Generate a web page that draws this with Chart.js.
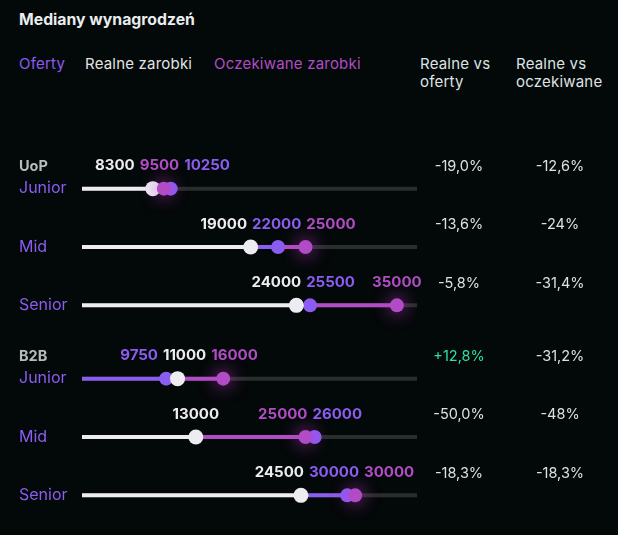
<!DOCTYPE html>
<html>
<head>
<meta charset="utf-8">
<script src="https://cdn.jsdelivr.net/npm/chart.js@4.4.1/dist/chart.umd.min.js"></script>
<style>
  body { margin: 0; background: #030808; width: 618px; height: 535px; overflow: hidden; font-family: Inter, sans-serif; }
  .txt { position: absolute; white-space: nowrap; font-size: 15px; line-height: 20px; letter-spacing: 0.2px; }
  .title { left: 19px; top: 10px; font-weight: 700; color: #e9eded; font-size: 15.8px; letter-spacing: 0; }
  .cols { line-height: 18px; color: #dfe3e3; top: 55px; }
  canvas { position: absolute; left: 0; }
</style>
</head>
<body>
<div class="txt title">Mediany wynagrodzeń</div>
<div class="txt" style="left:19px;top:54px;color:#8b5cf0">Oferty</div>
<div class="txt" style="left:85px;top:54px;color:#e2e4e4">Realne zarobki</div>
<div class="txt" style="left:214px;top:54px;color:#b24cc6">Oczekiwane zarobki</div>
<div class="txt cols" style="left:420px">Realne vs<br>oferty</div>
<div class="txt cols" style="left:516px">Realne vs<br>oczekiwane</div>
<canvas id="uop" width="618" height="190" style="top:152px"></canvas>
<canvas id="b2b" width="618" height="190" style="top:342px"></canvas>
<script>
// data
var groups = ['UoP', 'B2B'];
var levels = ['Junior', 'Mid', 'Senior'];
var oferty = [[10250, 22000, 25500], [9750, 26000, 30000]];
var realne = [[8300, 19000, 24000], [11000, 13000, 24500]];
var oczekiwane = [[9500, 25000, 35000], [16000, 25000, 30000]];
var realneVsOferty = [['-19,0%', '-13,6%', '-5,8%'], ['+12,8%', '-50,0%', '-18,3%']];
var realneVsOczekiwane = [['-12,6%', '-24%', '-31,4%'], ['-31,2%', '-48%', '-18,3%']];

var BLUE = '#8b5cf0', WHITE = '#ececf1', PURPLE = '#b24cc6', GREEN = '#2fe0a0';
var FONT = 'Inter, sans-serif';

function pts(vals) {
  return vals.map(function(v, i) { return { x: v, y: levels[i] }; });
}

// push equal values a little apart so both dots stay visible
var nudge = {
  id: 'nudge',
  afterDatasetsUpdate: function(chart) {
    var a = chart.getDatasetMeta(0).data, c = chart.getDatasetMeta(2).data;
    var da = chart.data.datasets[0].data, dc = chart.data.datasets[2].data;
    for (var i = 0; i < da.length; i++) {
      if (da[i].x === dc[i].x) { a[i].x -= 4; c[i].x += 4; }
    }
  }
};

var tracks = {
  id: 'tracks',
  beforeDatasetsDraw: function(chart) {
    var ctx = chart.ctx, area = chart.chartArea, ys = chart.scales.y;
    var start = area.left + 5;
    ctx.save();
    ctx.lineWidth = 4;
    levels.forEach(function(l, i) {
      var y = ys.getPixelForValue(i);
      ctx.strokeStyle = '#2b2d2d';
      ctx.beginPath(); ctx.moveTo(start, y); ctx.lineTo(area.right, y); ctx.stroke();
      var p = [0, 1, 2].map(function(d) {
        return { x: chart.getDatasetMeta(d).data[i].x, c: chart.data.datasets[d].backgroundColor };
      }).sort(function(a, b) { return a.x - b.x; });
      var from = start;
      p.forEach(function(q) {
        ctx.strokeStyle = q.c;
        ctx.beginPath(); ctx.moveTo(from, y); ctx.lineTo(q.x, y); ctx.stroke();
        from = q.x;
      });
    });
    ctx.restore();
  }
};

var glow = {
  id: 'glow',
  beforeDatasetDraw: function(chart, args) {
    if (args.index !== 2) return;
    chart.ctx.save();
    chart.ctx.shadowColor = 'rgba(205, 60, 215, 0.95)';
    chart.ctx.shadowBlur = 18;
  },
  afterDatasetDraw: function(chart, args) {
    if (args.index === 2) chart.ctx.restore();
  }
};

function layoutLabels(items, gap) {
  var cl = items.map(function(it) { return [it]; });
  var w = function(c) { return c.reduce(function(s, m) { return s + m.w; }, 0) + gap * (c.length - 1); };
  var ctr = function(c) { return c.reduce(function(s, m) { return s + m.x; }, 0) / c.length; };
  var merged = true;
  while (merged) {
    merged = false;
    for (var i = 0; i < cl.length - 1; i++) {
      if (ctr(cl[i]) + w(cl[i]) / 2 + gap > ctr(cl[i + 1]) - w(cl[i + 1]) / 2) {
        cl.splice(i, 2, cl[i].concat(cl[i + 1]));
        merged = true;
        break;
      }
    }
  }
  cl.forEach(function(c) {
    var left = ctr(c) - w(c) / 2;
    c.forEach(function(m) { m.left = left; left += m.w + gap; });
  });
}

function labelsPlugin(g) {
  return {
    id: 'labels',
    afterDatasetsDraw: function(chart) {
      var ctx = chart.ctx, ys = chart.scales.y;
      ctx.save();
      ctx.textBaseline = 'middle';
      levels.forEach(function(l, i) {
        var y = ys.getPixelForValue(i);
        // values above the dots
        ctx.font = '700 15px ' + FONT;
        ctx.textAlign = 'left';
        var items = [0, 1, 2].map(function(d) {
          var t = String(chart.data.datasets[d].data[i].x);
          return { x: chart.getDatasetMeta(d).data[i].x, t: t, w: ctx.measureText(t).width, c: chart.data.datasets[d].backgroundColor };
        }).sort(function(a, b) { return a.x - b.x; });
        layoutLabels(items, 5);
        items.forEach(function(m) { ctx.fillStyle = m.c; ctx.fillText(m.t, m.left, y - 23); });
        // row names
        if (i === 0) {
          ctx.font = '700 14.5px ' + FONT;
          ctx.fillStyle = '#b7bdbd';
          ctx.fillText(groups[g], 19, y - 22);
        }
        ctx.font = '400 16px ' + FONT;
        ctx.fillStyle = BLUE;
        ctx.fillText(l, 19, y);
        // comparison columns
        ctx.font = '400 14.5px ' + FONT;
        ctx.textAlign = 'center';
        var a = realneVsOferty[g][i];
        ctx.fillStyle = a.charAt(0) === '+' ? GREEN : '#dde1e1';
        ctx.fillText(a, 459, y - 22);
        ctx.fillStyle = '#dde1e1';
        ctx.fillText(realneVsOczekiwane[g][i], 560, y - 22);
      });
      ctx.restore();
    }
  };
}

function makeChart(id, g) {
  return new Chart(document.getElementById(id), {
    type: 'scatter',
    data: {
      datasets: [
        { label: 'Oferty', data: pts(oferty[g]), backgroundColor: BLUE, pointRadius: 7, borderWidth: 0, order: 2 },
        { label: 'Realne zarobki', data: pts(realne[g]), backgroundColor: WHITE, pointRadius: 7.5, borderWidth: 0, order: 1 },
        { label: 'Oczekiwane zarobki', data: pts(oczekiwane[g]), backgroundColor: PURPLE, pointRadius: 7, borderWidth: 0, order: 0 }
      ]
    },
    options: {
      responsive: false,
      animation: false,
      layout: { padding: { left: 77, right: 201, top: 5, bottom: 5 } },
      scales: {
        x: { type: 'linear', min: 0, max: 37200, display: false },
        y: { type: 'category', labels: levels, offset: true, display: false }
      },
      plugins: { legend: { display: false }, tooltip: { enabled: false } }
    },
    plugins: [nudge, tracks, glow, labelsPlugin(g)]
  });
}

makeChart('uop', 0);
makeChart('b2b', 1);
</script>
</body>
</html>
